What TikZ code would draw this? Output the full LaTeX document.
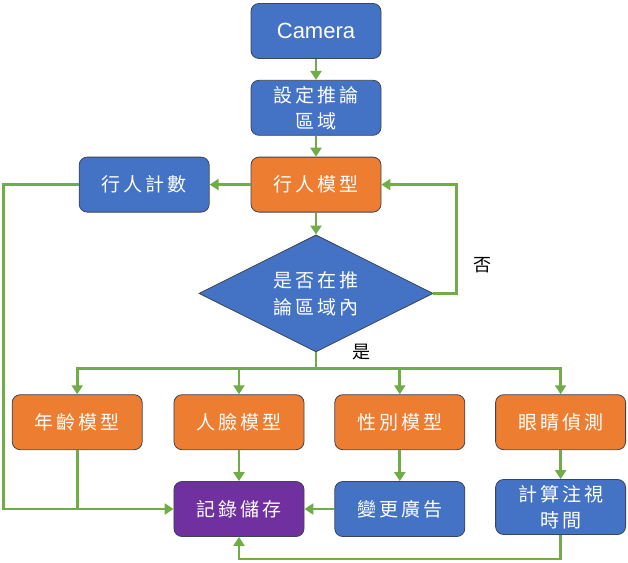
\documentclass[tikz,border=0pt]{standalone}
\usepackage{fontspec}
\setmainfont{Liberation Sans}
\newfontfamily\cjk[LetterSpace=16]{Noto Sans CJK TC}
\usetikzlibrary{shapes.geometric, arrows.meta, positioning, calc}
\definecolor{colBlue}{RGB}{68,114,196}
\definecolor{colOrange}{RGB}{237,125,49}
\definecolor{colPurple}{RGB}{112,48,160}
\definecolor{colGreen}{RGB}{112,173,71}
\definecolor{colBorder}{RGB}{60,68,85}
\tikzset{
    block/.style={rectangle, draw=colBorder, rounded corners=8pt, line width=0.8pt,
        minimum width=130pt, minimum height=55pt, inner sep=2pt, align=center,
        text=white, font=\cjk\fontsize{19}{26}\selectfont},
    decision/.style={diamond, draw=colBorder, fill=colBlue, line width=0.8pt,
        minimum width=234pt, minimum height=117pt, aspect=2, inner sep=0pt,
        align=center, text=white, font=\cjk\fontsize{19}{27}\selectfont},
    tag/.style={font=\cjk\fontsize{18}{20}\selectfont, inner sep=0pt},
    arrow/.style={-{Triangle[length=9pt,width=11pt]}, draw=colGreen, line width=2.8pt},
    line/.style={draw=colGreen, line width=2.8pt}
}

\begin{document}
\begin{tikzpicture}

    \useasboundingbox (-316pt,31pt) rectangle ++(628pt,-562pt);

    \node[block, fill=colBlue, font=\fontsize{22}{26}\selectfont] (camera) at (0,0) {Camera};
    \node[block, fill=colBlue, below=21pt of camera] (region) {設定推論\\區域};
    \node[block, fill=colOrange, below=21pt of region] (walker) {行人模型};
    \node[block, fill=colBlue, left=41pt of walker] (count) {行人計數};

    \node[decision, below=22pt of walker] (inside) {是否在推\\論區域內};

    \node[block, fill=colOrange, below=42pt of inside, xshift=-77pt] (face) {人臉模型};
    \node[block, fill=colOrange, left=31pt of face] (age) {年齡模型};
    \node[block, fill=colOrange, right=30pt of face] (gender) {性別模型};
    \node[block, fill=colOrange, right=30pt of gender] (eye) {眼睛偵測};

    \node[block, fill=colPurple, below=31pt of face] (store) {記錄儲存};
    \node[block, fill=colBlue, below=31pt of gender] (ad) {變更廣告};
    \node[block, fill=colBlue, below=29pt of eye] (gaze) {計算注視\\時間};

    \coordinate (split) at ($(inside.south)+(0,-16pt)$);
    \node[tag, anchor=west] (yes) at ([xshift=36pt]inside.south) {是};

    \draw[arrow] (camera) -- (region);
    \draw[arrow] (region) -- (walker);
    \draw[arrow] (walker) -- (count);
    \draw[arrow] (walker) -- (inside);
    \draw[arrow] (inside.east) -- ++(23pt,0) |- node[tag, pos=0.13, right=16pt] (no) {否} (walker.east);

    \draw[line] (inside.south) -- (split);
    \draw[arrow] (split) -| (age);
    \draw[arrow] (split) -| (face);
    \draw[arrow] (split) -| (gender);
    \draw[arrow] (split) -| (eye);

    \draw[arrow] (count.west) -- ++(-75pt,0) |- (store.west);
    \draw[line] (age) -- (age |- store);
    \draw[arrow] (face) -- (store);
    \draw[arrow] (gender) -- (ad);
    \draw[arrow] (ad) -- (store);
    \draw[arrow] (eye) -- (gaze);
    \draw[arrow] (gaze.south) -- ++(0,-24pt) -| (store.south);

\end{tikzpicture}
\end{document}
